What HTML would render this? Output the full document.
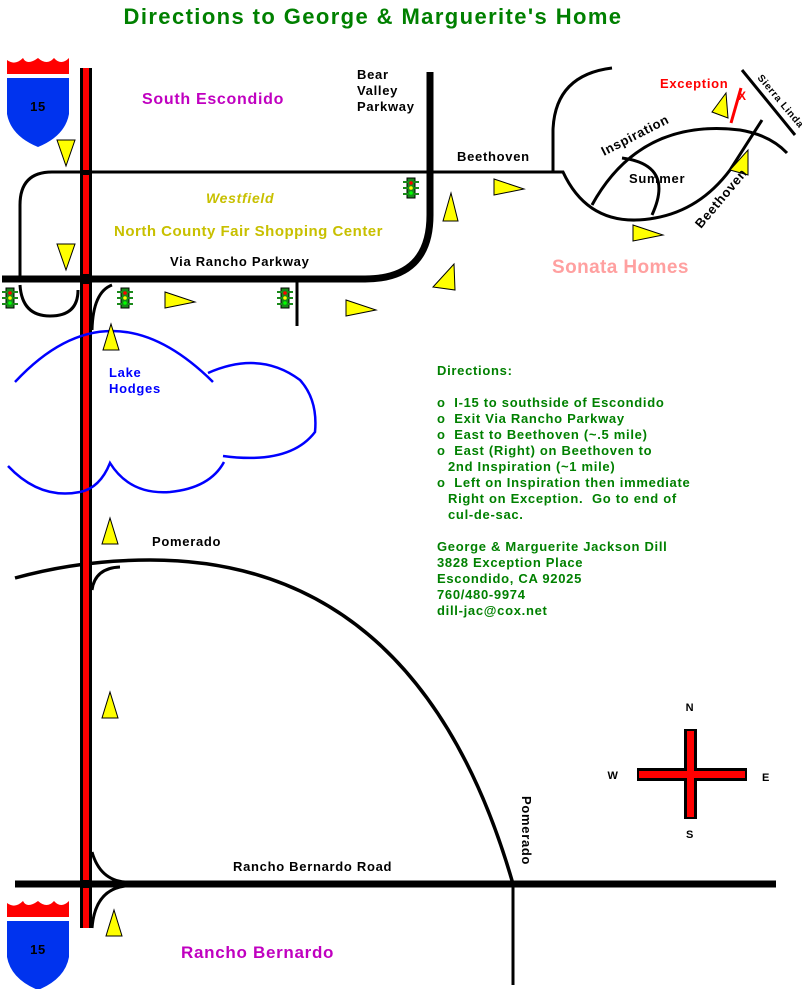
<!DOCTYPE html>
<html><head><meta charset="utf-8"><style>
html,body{margin:0;padding:0;background:#fff;}
svg{display:block;}
text{font-family:"Liberation Sans",Arial,sans-serif;font-weight:bold;letter-spacing:0.7px;}
</style></head><body>
<svg width="810" height="989" viewBox="0 0 810 989" xmlns="http://www.w3.org/2000/svg">
<defs>
<g id="shield">
<path d="M0,0 L0,-14 Q8,-8 16,-16 Q20,-8 31,-16 Q40,-8 47,-16 Q54,-8 62,-16 L62,0 Z" fill="#f00"/>
<path d="M0,4 L62,4 L62,40 Q58,62 31,73 Q4,62 0,40 Z" fill="#0033ee"/>
<text x="31" y="37" font-size="13" text-anchor="middle" fill="#000">15</text>
</g>
<g id="light">
<rect x="-4" y="-10" width="8" height="20" fill="#1a8a1a" stroke="#000" stroke-width="1"/>
<path d="M-8,-6 h16 M-8,0 h16 M-8,6 h16" stroke="#1a8a1a" stroke-width="2"/>
<circle cx="0" cy="-5" r="1.8" fill="#f00"/><circle cx="0" cy="0" r="1.8" fill="#ff0"/><circle cx="0" cy="5" r="1.8" fill="#0f0"/>
</g>
<polygon id="tdown" points="-9,0 9,0 0,26" fill="#ff0" stroke="#000" stroke-width="1"/>
<polygon id="tup" points="-8,26 8,26 0,0" fill="#ff0" stroke="#000" stroke-width="1"/>
<polygon id="tright" points="0,-8 0,8 30,2" fill="#ff0" stroke="#000" stroke-width="1"/>
</defs>

<text x="373" y="24" font-size="22" fill="#008000" text-anchor="middle" style="letter-spacing:1.4px">Directions to George &amp; Marguerite's Home</text>

<use href="#shield" x="7" y="74"/>
<use href="#shield" x="7" y="917"/>

<g fill="none" stroke="#000">
<path d="M52,172 L555,172" stroke-width="3"/>
<path d="M52,172 Q20,172 20,205 L20,278" stroke-width="3"/>
<path d="M2,279 L365,279 Q430,279 430,215 L430,72" stroke-width="7"/>
<path d="M20,285 Q22,316 50,316 Q78,316 78,290" stroke-width="3"/>
<path d="M112,285 Q93,292 92,330" stroke-width="3"/>
<path d="M297,279 L297,326" stroke-width="3"/>
<path d="M612,68 Q555,75 553,130 L553,172 L563,172 Q590,230 655,218 Q700,210 730,170 L762,120" stroke-width="3"/>
<path d="M592,205 Q640,118 740,130 Q770,135 787,153" stroke-width="3"/>
<path d="M622,158 Q675,165 652,215" stroke-width="3"/>
<path d="M742,70 L795,135" stroke-width="3"/>
<path d="M15,578 Q80,560 150,560 Q420,560 513,884" stroke-width="3.5"/>
<path d="M92,590 Q95,568 120,567" stroke-width="3"/>
<path d="M513,884 L513,985" stroke-width="3"/>
<path d="M15,884 L776,884" stroke-width="7"/>
<path d="M92,852 Q100,880 125,882" stroke-width="3"/>
<path d="M92,928 Q95,890 125,886" stroke-width="3"/>
</g>
<path d="M741,88 L731,123" stroke="#f00" stroke-width="3"/>
<text x="660" y="88" font-size="13" fill="#f00">Exception</text>
<text x="738" y="100" font-size="12" fill="#f00">X</text>

<rect x="80" y="68" width="12" height="860" fill="#000"/>
<rect x="83" y="68" width="6" height="860" fill="#f00"/>
<rect x="80" y="274" width="12" height="10" fill="#000"/>
<rect x="80" y="170" width="12" height="5" fill="#000"/>
<rect x="80" y="880" width="12" height="8" fill="#000"/>

<g fill="none" stroke="#0000ff" stroke-width="2.5">
<path d="M15,382 Q110,280 213,382"/>
<path d="M208,373 Q260,350 300,380 Q318,400 315,432 Q290,465 223,456"/>
<path d="M8,466 Q40,500 80,492 Q100,488 110,463 Q130,495 170,492 Q210,488 224,462"/>
</g>
<text x="109" y="377" font-size="13" fill="#0000ff">Lake</text>
<text x="109" y="393" font-size="13" fill="#0000ff">Hodges</text>

<use href="#light" x="411" y="188"/>
<use href="#light" x="10" y="298"/>
<use href="#light" x="125" y="298"/>
<use href="#light" x="285" y="298"/>

<use href="#tdown" x="66" y="140"/>
<use href="#tdown" x="66" y="244"/>
<use href="#tup" x="111" y="324"/>
<use href="#tup" x="110" y="518"/>
<use href="#tup" x="110" y="692"/>
<use href="#tup" x="114" y="910"/>
<use href="#tright" x="165" y="300"/>
<use href="#tright" x="346" y="308"/>
<use href="#tright" x="494" y="187"/>
<use href="#tright" x="633" y="233"/>
<polygon points="443,221 458,221 451,193" fill="#ff0" stroke="#000"/>
<polygon points="433,287 455,290 454,264" fill="#ff0" stroke="#000"/>
<polygon points="712,112 728,118 726,93" fill="#ff0" stroke="#000"/>
<polygon points="730,170 748,175 748,150" fill="#ff0" stroke="#000"/>

<text x="142" y="104" font-size="16" fill="#c000c0">South Escondido</text>
<text x="357" y="79" font-size="13" fill="#000">Bear</text>
<text x="357" y="95" font-size="13" fill="#000">Valley</text>
<text x="357" y="111" font-size="13" fill="#000">Parkway</text>
<text x="457" y="161" font-size="13" fill="#000">Beethoven</text>
<text x="206" y="203" font-size="14" font-style="italic" fill="#c8c000">Westfield</text>
<text x="114" y="236" font-size="15" fill="#c8c000" style="letter-spacing:0.5px">North County Fair Shopping Center</text>
<text x="170" y="266" font-size="13" fill="#000">Via Rancho Parkway</text>
<text x="552" y="273" font-size="19" fill="#ffa0a0" style="letter-spacing:0.4px">Sonata Homes</text>
<text x="629" y="183" font-size="13" fill="#000">Summer</text>
<text x="604" y="156" font-size="13" fill="#000" transform="rotate(-27 604 156)">Inspiration</text>
<text x="701" y="229" font-size="13" fill="#000" transform="rotate(-50 701 229)">Beethoven</text>
<text x="757" y="78" font-size="10" fill="#000" transform="rotate(50 757 78)">Sierra Linda</text>
<text x="152" y="546" font-size="13" fill="#000">Pomerado</text>
<text x="522" y="796" font-size="13" fill="#000" transform="rotate(90 522 796)">Pomerado</text>
<text x="233" y="871" font-size="13" fill="#000">Rancho Bernardo Road</text>
<text x="181" y="958" font-size="17" fill="#c000c0">Rancho Bernardo</text>

<g font-size="13" fill="#008000" style="letter-spacing:0.85px">
<text x="437" y="375">Directions:</text>
<text x="437" y="407">o&#160;&#160;I-15 to southside of Escondido</text>
<text x="437" y="423">o&#160;&#160;Exit Via Rancho Parkway</text>
<text x="437" y="439">o&#160;&#160;East to Beethoven (~.5 mile)</text>
<text x="437" y="455">o&#160;&#160;East (Right) on Beethoven to</text>
<text x="448" y="471">2nd Inspiration (~1 mile)</text>
<text x="437" y="487">o&#160;&#160;Left on Inspiration then immediate</text>
<text x="448" y="503">Right on Exception.&#160; Go to end of</text>
<text x="448" y="519">cul-de-sac.</text>
<text x="437" y="551">George &amp; Marguerite Jackson Dill</text>
<text x="437" y="567">3828 Exception Place</text>
<text x="437" y="583">Escondido, CA 92025</text>
<text x="437" y="599">760/480-9974</text>
<text x="437" y="615">dill-jac@cox.net</text>
</g>

<rect x="637" y="768" width="110" height="13" fill="#000"/>
<rect x="684" y="729" width="13" height="90" fill="#000"/>
<rect x="639" y="771" width="106" height="7" fill="#f00"/>
<rect x="687" y="731" width="7" height="86" fill="#f00"/>
<text x="690" y="711" font-size="11" fill="#000" text-anchor="middle">N</text>
<text x="690" y="838" font-size="11" fill="#000" text-anchor="middle">S</text>
<text x="613" y="779" font-size="11" fill="#000" text-anchor="middle">W</text>
<text x="766" y="781" font-size="11" fill="#000" text-anchor="middle">E</text>
</svg>
</body></html>
